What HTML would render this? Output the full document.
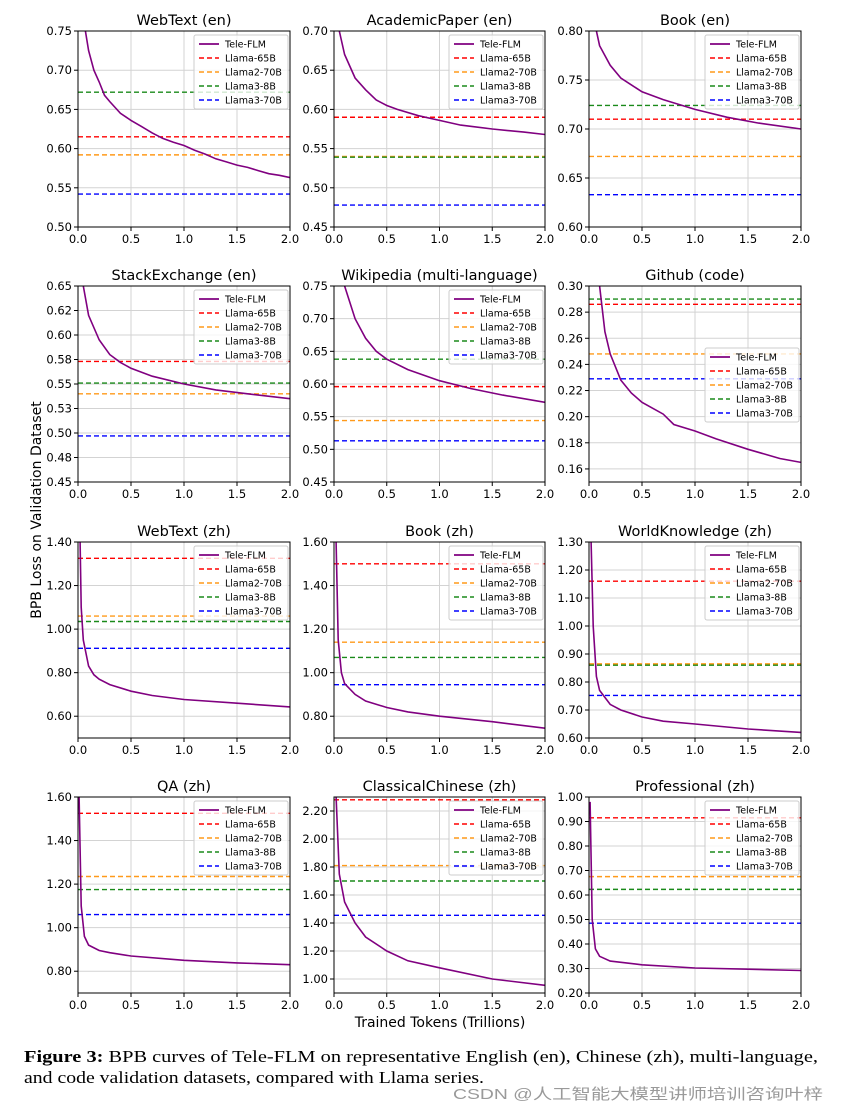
<!DOCTYPE html>
<html><head><meta charset="utf-8"><style>
body{margin:0;background:#fff;width:842px;height:1109px;overflow:hidden}
svg{display:block}
</style></head><body>
<svg id="fig" width="842" height="1109" viewBox="0 0 842 1109" font-family="'DejaVu Sans','Liberation Sans',sans-serif"></svg>
<script>
const titles=["WebText (en)","AcademicPaper (en)","Book (en)","StackExchange (en)","Wikipedia (multi-language)","Github (code)","WebText (zh)","Book (zh)","WorldKnowledge (zh)","QA (zh)","ClassicalChinese (zh)","Professional (zh)"];
const yMins=[0.50,0.45,0.60,0.45,0.45,0.15,0.50,0.70,0.60,0.70,0.90,0.20];
const yMaxs=[0.75,0.70,0.80,0.65,0.75,0.30,1.40,1.60,1.30,1.60,2.30,1.00];
const yTickVals=[
[0.50,0.55,0.60,0.65,0.70,0.75],[0.45,0.50,0.55,0.60,0.65,0.70],[0.60,0.65,0.70,0.75,0.80],
[0.45,0.475,0.50,0.525,0.55,0.575,0.60,0.625,0.65],[0.45,0.50,0.55,0.60,0.65,0.70,0.75],[0.16,0.18,0.20,0.22,0.24,0.26,0.28,0.30],
[0.6,0.8,1.0,1.2,1.4],[0.8,1.0,1.2,1.4,1.6],[0.6,0.7,0.8,0.9,1.0,1.1,1.2,1.3],
[0.8,1.0,1.2,1.4,1.6],[1.0,1.2,1.4,1.6,1.8,2.0,2.2],[0.2,0.3,0.4,0.5,0.6,0.7,0.8,0.9,1.0]];
const yTickLabels=[
["0.50","0.55","0.60","0.65","0.70","0.75"],["0.45","0.50","0.55","0.60","0.65","0.70"],["0.60","0.65","0.70","0.75","0.80"],
["0.45","0.48","0.50","0.53","0.55","0.58","0.60","0.62","0.65"],["0.45","0.50","0.55","0.60","0.65","0.70","0.75"],["0.16","0.18","0.20","0.22","0.24","0.26","0.28","0.30"],
["0.60","0.80","1.00","1.20","1.40"],["0.80","1.00","1.20","1.40","1.60"],["0.60","0.70","0.80","0.90","1.00","1.10","1.20","1.30"],
["0.80","1.00","1.20","1.40","1.60"],["1.00","1.20","1.40","1.60","1.80","2.00","2.20"],["0.20","0.30","0.40","0.50","0.60","0.70","0.80","0.90","1.00"]];
const xTicks=[0,0.5,1.0,1.5,2.0];
const xTickLabels=["0.0","0.5","1.0","1.5","2.0"];
const llama65B=[0.615,0.590,0.710,0.573,0.596,0.286,1.325,1.50,1.16,1.525,2.28,0.915];
const llama2_70B=[0.592,0.540,0.672,0.540,0.544,0.248,1.06,1.14,0.865,1.235,1.81,0.675];
const llama3_8B=[0.672,0.539,0.724,0.551,0.638,0.290,1.035,1.07,0.86,1.175,1.70,0.623];
const llama3_70B=[0.542,0.478,0.633,0.497,0.513,0.229,0.912,0.945,0.752,1.06,1.455,0.485];
const teleX=[
[0.07,0.1,0.15,0.2,0.25,0.3,0.4,0.5,0.6,0.7,0.8,0.9,1.0,1.1,1.2,1.3,1.4,1.5,1.6,1.7,1.8,1.9,2.0],
[0.05,0.1,0.2,0.3,0.4,0.5,0.6,0.8,1.0,1.2,1.5,1.8,2.0],
[0.07,0.1,0.2,0.3,0.4,0.5,0.7,1.0,1.3,1.6,2.0],
[0.05,0.1,0.2,0.3,0.4,0.5,0.7,1.0,1.3,1.6,2.0],
[0.1,0.2,0.3,0.4,0.5,0.7,1.0,1.3,1.6,2.0],
[0.1,0.15,0.2,0.3,0.4,0.5,0.7,0.8,1.0,1.2,1.5,1.8,2.0],
[0.02,0.03,0.05,0.1,0.15,0.2,0.3,0.5,0.7,1.0,1.5,2.0],
[0.02,0.04,0.07,0.1,0.2,0.3,0.5,0.7,1.0,1.5,2.0],
[0.02,0.04,0.07,0.1,0.2,0.3,0.5,0.7,1.0,1.5,2.0],
[0.01,0.03,0.06,0.1,0.2,0.3,0.5,1.0,1.5,2.0],
[0.02,0.05,0.1,0.2,0.3,0.5,0.7,1.0,1.5,2.0],
[0.01,0.03,0.06,0.1,0.2,0.5,1.0,1.5,2.0]];
const teleY=[
[0.75,0.725,0.70,0.685,0.668,0.66,0.645,0.636,0.628,0.62,0.613,0.608,0.604,0.598,0.593,0.587,0.583,0.579,0.576,0.572,0.568,0.566,0.563],
[0.70,0.67,0.64,0.625,0.612,0.605,0.60,0.592,0.586,0.58,0.575,0.571,0.568],
[0.80,0.785,0.765,0.752,0.745,0.738,0.73,0.72,0.712,0.706,0.700],
[0.65,0.62,0.595,0.58,0.572,0.566,0.558,0.55,0.544,0.54,0.535],
[0.75,0.70,0.67,0.65,0.638,0.622,0.605,0.593,0.583,0.572],
[0.30,0.265,0.248,0.228,0.218,0.211,0.202,0.194,0.189,0.183,0.175,0.168,0.165],
[1.40,1.10,0.95,0.83,0.79,0.77,0.745,0.715,0.695,0.677,0.66,0.643],
[1.60,1.15,1.00,0.95,0.90,0.87,0.84,0.82,0.80,0.775,0.745],
[1.30,1.00,0.82,0.77,0.72,0.70,0.675,0.66,0.65,0.632,0.62],
[1.60,1.10,0.96,0.92,0.895,0.885,0.87,0.85,0.838,0.83],
[2.30,1.75,1.55,1.40,1.30,1.20,1.13,1.08,1.00,0.955],
[0.98,0.50,0.38,0.35,0.33,0.315,0.302,0.297,0.292]];
const legendLabels=["Tele-FLM","Llama-65B","Llama2-70B","Llama3-8B","Llama3-70B"];
const lineColors=["#800080","#ff0000","#ff9a1a","#1a8a1a","#0000ff"];

const NS="http://www.w3.org/2000/svg";
const svg=document.getElementById('fig');
function mk(tag,attrs,parent,text){const e=document.createElementNS(NS,tag);for(const k in attrs)e.setAttribute(k,attrs[k]);if(text!==undefined)e.textContent=text;(parent||svg).appendChild(e);return e;}
const colX=[78,334,589], W=[212,211,212];
const rowY=[31,286,542,797], H=196;
for(let p=0;p<12;p++){
  const r=Math.floor(p/3),c=p%3;
  const L=colX[c],T=rowY[r],w=W[c];
  const sx=v=>L+v/2*w;
  const sy=v=>T+H-(v-yMins[p])/(yMaxs[p]-yMins[p])*H;
  const g=mk('g',{});
  
  
  const t=mk('text',{x:L+w/2,y:T-6,'text-anchor':'middle','font-size':14.5,fill:'#000'},g,titles[p]);
  
  
  // grid
  xTicks.forEach((v,i)=>{
    mk('line',{x1:sx(v),x2:sx(v),y1:T,y2:T+H,stroke:'#d3d3d3','stroke-width':1},g);
    mk('line',{x1:sx(v),x2:sx(v),y1:T+H,y2:T+H+4,stroke:'#000','stroke-width':1},g);
    const tl=mk('text',{x:sx(v),y:T+H+16,'text-anchor':'middle','font-size':11.5},g,xTickLabels[i]);
    
    
  });
  yTickVals[p].forEach((v,i)=>{
    mk('line',{x1:L,x2:L+w,y1:sy(v),y2:sy(v),stroke:'#d3d3d3','stroke-width':1},g);
    mk('line',{x1:L-4,x2:L,y1:sy(v),y2:sy(v),stroke:'#000','stroke-width':1},g);
    const tl=mk('text',{x:L-6,y:sy(v)+4,'text-anchor':'end','font-size':11.5},g,yTickLabels[p][i]);
    
    
  });
  const clipId='clip'+p;
  const cp=mk('clipPath',{id:clipId},g);mk('rect',{x:L,y:T,width:w,height:H},cp);
  const series=[llama65B,llama2_70B,llama3_8B,llama3_70B];
  const snames=['llama-65b-line','llama2-70b-line','llama3-8b-line','llama3-70b-line'];
  series.forEach((s,i)=>{
    const ln=mk('line',{x1:L,x2:L+w,y1:sy(s[p]),y2:sy(s[p]),stroke:lineColors[i+1],'stroke-width':1.4,'stroke-dasharray':'5,3','clip-path':`url(#${clipId})`},g);
    
    
  });
  const pts=teleX[p].map((x,i)=>sx(x).toFixed(1)+','+sy(teleY[p][i]).toFixed(1)).join(' ');
  const pl=mk('polyline',{points:pts,fill:'none',stroke:lineColors[0],'stroke-width':1.6,'clip-path':`url(#${clipId})`},g);
  
  
  mk('rect',{x:L,y:T,width:w,height:H,fill:'none',stroke:'#000','stroke-width':1},g);
  // legend
  const lw=94,lh=74;
  const lx=L+w-lw-2, ly=(p===5)?T+62:T+4;
  const lg=mk('g',{},g);
  
  
  mk('rect',{x:lx,y:ly,width:lw,height:lh,rx:2,fill:'#fff','fill-opacity':0.8,stroke:'#ccc','stroke-width':1},lg);
  legendLabels.forEach((lab,i)=>{
    const yy=ly+9+i*14;
    mk('line',{x1:lx+5,x2:lx+25,y1:yy,y2:yy,stroke:lineColors[i],'stroke-width':i?1.4:1.8,'stroke-dasharray':i?'5,3':'none'},lg);
    const et=mk('text',{x:lx+31,y:yy+3.5,'font-size':9.5},lg,lab);
    
    
  });
}
</script>
<svg style="position:absolute;left:0;top:0" width="842" height="1109">
<text x="0" y="0" transform="translate(41,510) rotate(-90)" text-anchor="middle" font-size="14" font-family="'DejaVu Sans',sans-serif">BPB Loss on Validation Dataset</text>
<text x="440" y="1027" text-anchor="middle" font-size="14" font-family="'DejaVu Sans',sans-serif">Trained Tokens  (Trillions)</text>
<text x="24" y="1062" font-size="17" font-family="'Liberation Serif',serif" textLength="794" lengthAdjust="spacingAndGlyphs"><tspan font-weight="bold">Figure 3:</tspan> BPB curves of Tele-FLM on representative English (en), Chinese (zh), multi-language,</text>
<text x="24" y="1083" font-size="17" font-family="'Liberation Serif',serif" textLength="460" lengthAdjust="spacingAndGlyphs">and code validation datasets, compared with Llama series.</text>
<text x="453" y="1099" font-size="15" fill="#9a9a9a" font-family="'Liberation Sans','Noto Sans CJK SC',sans-serif" textLength="370" lengthAdjust="spacingAndGlyphs">CSDN @人工智能大模型讲师培训咨询叶梓</text>
</svg>
</body></html>
